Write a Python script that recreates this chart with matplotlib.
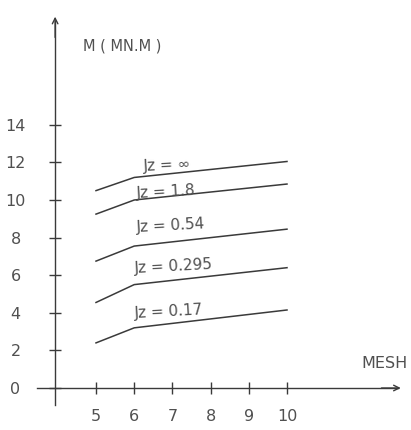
import matplotlib
matplotlib.use("Agg")
import matplotlib.pyplot as plt

# values
mesh = [5, 6, 10]
m_inf = [10.5, 11.2, 12.05]
m_18 = [9.25, 10.0, 10.85]
m_054 = [6.75, 7.55, 8.45]
m_0295 = [4.55, 5.5, 6.4]
m_017 = [2.4, 3.2, 4.15]

x_ticks = [5, 6, 7, 8, 9, 10]
y_ticks = [0, 2, 4, 6, 8, 10, 12, 14]

series = [
    (m_inf, "Jz = \u221e", (6.22, 11.85)),
    (m_18, "Jz = 1.8", (6.05, 10.45)),
    (m_054, "Jz = 0.54", (6.05, 8.65)),
    (m_0295, "Jz = 0.295", (6.0, 6.45)),
    (m_017, "Jz = 0.17", (6.0, 4.05)),
]

ink = "#3a3a3a"
txt = "#505050"
plt.rcParams["font.family"] = ["DejaVu Sans"]

fig = plt.figure(figsize=(4.11, 4.30), dpi=100)
ax = fig.add_axes([0, 0, 1, 1])
ax.set_xlim(2.487, 13.246)
ax.set_ylim(-2.234, 20.64)

for vals, label, pos in series:
    ax.plot(mesh, vals, color=ink, lw=1.1)
    ax.text(pos[0], pos[1], label, fontsize=11, color=txt,
            ha="left", va="center", rotation=3)

# axes drawn as crossing lines with arrow heads
y_axis_x = 3.93
ax.spines["top"].set_visible(False)
ax.spines["right"].set_visible(False)
ax.spines["left"].set_position(("data", y_axis_x))
ax.spines["bottom"].set_position(("data", 0))
ax.spines["left"].set_bounds(-0.9, 19.5)
ax.spines["bottom"].set_bounds(3.45, 12.9)
for s in ("left", "bottom"):
    ax.spines[s].set_color(ink)
    ax.spines[s].set_linewidth(1.0)
ax.annotate("", xy=(y_axis_x, 19.9), xytext=(y_axis_x, 18.5),
            arrowprops=dict(arrowstyle="->", color=ink, lw=1.0))
ax.annotate("", xy=(13.05, 0), xytext=(12.4, 0),
            arrowprops=dict(arrowstyle="->", color=ink, lw=1.0))

ax.set_xticks(x_ticks)
ax.set_yticks(y_ticks)
ax.set_xticklabels([str(v) for v in x_ticks])
ax.set_yticklabels([str(v) for v in y_ticks], ha="center")
ax.tick_params(axis="both", direction="inout", length=8, width=1.0,
               color=ink, labelcolor=txt, labelsize=11.5)
ax.tick_params(axis="y", pad=24.5)
ax.tick_params(axis="x", pad=11)

ax.text(4.66, 18.2, "M ( MN.M )", fontsize=10.5, color=txt,
        ha="left", va="center")
ax.text(11.96, 1.33, "MESH", fontsize=11.5, color=txt,
        ha="left", va="center")

fig.savefig("out.png", dpi=100)
